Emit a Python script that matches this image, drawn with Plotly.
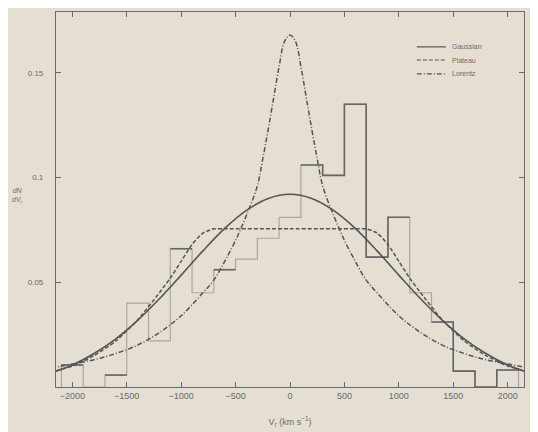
import plotly.graph_objects as go

# ---------------- data ----------------
bin_centers = [-2000, -1800, -1600, -1400, -1200, -1000, -800, -600, -400, -200, 0,
               200, 400, 600, 800, 1000, 1200, 1400, 1600, 1800, 2000]
bin_width = 200
hist_values = [0.0105, 0.0, 0.0057, 0.040, 0.022, 0.066, 0.045, 0.056, 0.061, 0.071, 0.081,
               0.106, 0.101, 0.135, 0.062, 0.081, 0.045, 0.031, 0.0076, 0.0, 0.0081]
# bins whose outline is still clearly dark in the scan
dark_bins = [-2000, -1600, -1000, -600, 200, 400, 600, 800, 1000, 1400, 1600, 1800, 2000]

gauss_v = [-2200, -2000, -1800, -1600, -1400, -1200, -1000, -800, -600, -400, -200, 0,
           200, 400, 600, 800, 1000, 1200, 1400, 1600, 1800, 2000, 2200]
gauss_y = [0.0067, 0.0105, 0.0160, 0.0230, 0.0318, 0.0421, 0.0534, 0.0650, 0.0757, 0.0843, 0.0900, 0.0920,
           0.0900, 0.0843, 0.0757, 0.0650, 0.0534, 0.0421, 0.0318, 0.0230, 0.0160, 0.0105, 0.0067]

plateau_v = [-2200, -2000, -1800, -1600, -1400, -1200, -1100, -1000, -900, -800, -700, -600, 0,
             600, 700, 800, 900, 1000, 1100, 1200, 1400, 1600, 1800, 2000, 2200]
plateau_y = [0.007, 0.010, 0.015, 0.022, 0.032, 0.045, 0.052, 0.060, 0.068, 0.0735, 0.0755, 0.0755, 0.0755,
             0.0755, 0.0755, 0.0735, 0.068, 0.060, 0.052, 0.045, 0.032, 0.022, 0.015, 0.010, 0.007]

lorentz_v = [-2200, -2000, -1800, -1600, -1400, -1200, -1000, -800, -700, -600, -500, -400, -300,
             -250, -200, -150, -100, -50, 0, 50, 100, 150, 200, 250, 300, 400, 500, 600, 700, 800,
             1000, 1200, 1400, 1600, 1800, 2000, 2200]
lorentz_y = [0.009, 0.011, 0.013, 0.016, 0.020, 0.026, 0.034, 0.045, 0.051, 0.060, 0.070, 0.082, 0.096,
             0.109, 0.123, 0.138, 0.153, 0.165, 0.168, 0.165, 0.153, 0.138, 0.123, 0.109, 0.096, 0.082,
             0.070, 0.060, 0.051, 0.045, 0.034, 0.026, 0.020, 0.016, 0.013, 0.011, 0.009]

legend_names = ["Gaussian", "Plateau", "Lorentz"]
x_ticks = [-2000, -1500, -1000, -500, 0, 500, 1000, 1500, 2000]
x_tick_text = ["\u22122000", "\u22121500", "\u22121000", "\u2212500", "0", "500", "1000", "1500", "2000"]
y_ticks = [0.05, 0.1, 0.15]
y_tick_text = ["0.05", "0.1", "0.15"]

# ---------------- build step outlines from the histogram ----------------
def step_path(centers, values, keep=None):
    xs, ys = [], []
    prev_kept = False
    for c, v in zip(centers, values):
        left, right = c - bin_width / 2, c + bin_width / 2
        if keep is not None and c not in keep:
            if prev_kept:
                xs.append(None); ys.append(None)
            prev_kept = False
            continue
        if not xs or xs[-1] is None:
            base = 0.0 if keep is None else v
            xs += [left]; ys += [base]
        xs += [left, right]; ys += [v, v]
        prev_kept = True
    if keep is None:
        xs.append(centers[-1] + bin_width / 2); ys.append(0.0)
    return xs, ys

hx, hy = step_path(bin_centers, hist_values)
dx, dy = step_path(bin_centers, hist_values, keep=set(dark_bins))

bg = "#e5dfd3"
ink = "#555555"
txt = "#6a6a6a"
font_family = "Liberation Sans, Arial, sans-serif"

curve_styles = [dict(color=ink, width=1.6),
                dict(color=ink, width=1.5, dash="4px,2px"),
                dict(color=ink, width=1.5, dash="5px,2px,1px,2px")]

fig = go.Figure()
fig.add_trace(go.Scatter(x=hx, y=hy, mode="lines", line=dict(color="#aca79e", width=1.2),
                         showlegend=False, hoverinfo="skip"))
fig.add_trace(go.Scatter(x=dx, y=dy, mode="lines", line=dict(color="#666666", width=1.6),
                         showlegend=False, hoverinfo="skip", connectgaps=False))
fig.add_trace(go.Scatter(x=gauss_v, y=gauss_y, mode="lines", name=legend_names[0],
                         line=dict(**curve_styles[0], shape="spline"), showlegend=False))
fig.add_trace(go.Scatter(x=plateau_v, y=plateau_y, mode="lines", name=legend_names[1],
                         line=dict(**curve_styles[1], shape="spline", smoothing=0.6), showlegend=False))
fig.add_trace(go.Scatter(x=lorentz_v, y=lorentz_y, mode="lines", name=legend_names[2],
                         line=dict(**curve_styles[2], shape="spline"), showlegend=False))

# compact legend (sample line + label) in the upper right corner of the frame
leg_x0, leg_x1, leg_text_x = 0.771, 0.833, 0.842
leg_rows = [0.907, 0.872, 0.835]
for name, style, yy in zip(legend_names, curve_styles, leg_rows):
    fig.add_shape(type="line", xref="paper", yref="paper", x0=leg_x0, x1=leg_x1, y0=yy, y1=yy,
                  line=dict(color=style["color"], width=1.2, dash=style.get("dash", "solid")))
    fig.add_annotation(text=name, xref="paper", yref="paper", x=leg_text_x, y=yy,
                       xanchor="left", yanchor="middle", showarrow=False,
                       font=dict(size=7, color=txt))

fig.update_layout(
    width=538, height=432,
    margin=dict(l=48, r=22, t=4, b=53),
    paper_bgcolor=bg, plot_bgcolor=bg,
    font=dict(family=font_family, size=9, color=txt),
    showlegend=False,
)
fig.update_xaxes(range=[-2150, 2150], tickvals=x_ticks, ticktext=x_tick_text,
                 showgrid=False, zeroline=False, showline=True, mirror="ticks",
                 linecolor="#6a6a6a", linewidth=1.2, ticks="inside", ticklen=5, tickcolor="#6a6a6a",
                 tickfont=dict(size=9),
                 title=dict(text="V<sub>r</sub> (km s<sup>\u22121</sup>)", font=dict(size=9, color=txt),
                            standoff=18))
fig.update_yaxes(range=[0, 0.179], tickvals=y_ticks, ticktext=y_tick_text,
                 showgrid=False, zeroline=False, showline=True, mirror="ticks",
                 linecolor="#6a6a6a", linewidth=1.2, ticks="inside", ticklen=5, tickcolor="#6a6a6a",
                 tickfont=dict(size=8), ticklabelstandoff=10)
fig.add_annotation(text="<i>dN</i><br><i>dV<sub>r</sub></i>", xref="paper", yref="paper",
                   x=-0.098, y=0.51, showarrow=False, font=dict(size=7, color=txt), align="center")

fig.write_html("out.html")
